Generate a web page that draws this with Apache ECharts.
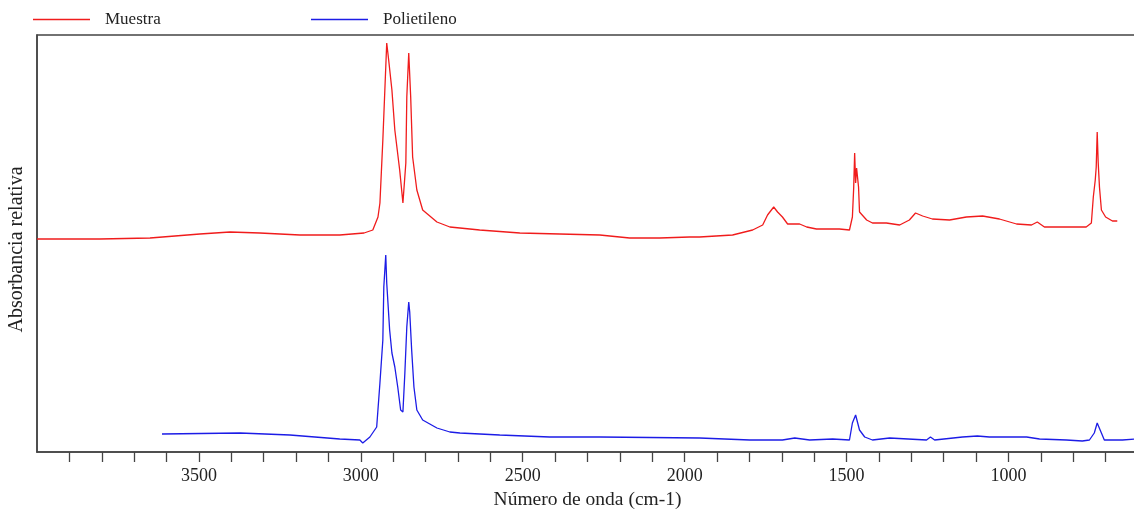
<!DOCTYPE html>
<html>
<head>
<meta charset="utf-8">
<script src="https://cdn.jsdelivr.net/npm/echarts@6/dist/echarts.min.js"></script>
<style>
html,body{margin:0;padding:0;background:#fff;overflow:hidden;}
#chart{width:1134px;height:516px;}
</style>
</head>
<body>
<div id="chart"></div>
<script>
// Muestra (red) — wavenumber (cm-1) and relative absorbance (arbitrary units)
const muestraX = [4000,3806,3651,3497,3404,3312,3188,3065,2990,2963,2947,2941,2932,2920,2914,2904,2895,2880,2870,2861,2858,2852,2846,2840,2827,2809,2765,2725,2694,2633,2509,2386,2262,2170,2077,1985,1954,1852,1790,1759,1744,1725,1713,1698,1682,1645,1623,1593,1522,1491,1482,1478,1475,1472,1469,1463,1460,1438,1420,1377,1336,1306,1287,1265,1235,1182,1130,1080,1028,975,929,911,889,760,744,738,732,729,726,723,719,713,700,679,664];
const muestraY = [213,213,214,218,220,219,217,217,219,222,235,249,312,409,392,362,322,282,249,289,355,399,355,295,262,242,230,225,224,222,219,218,217,214,214,215,215,217,222,227,237,245,240,235,228,228,225,223,223,222,235,264,299,269,284,265,240,232,229,229,227,232,239,236,233,232,235,236,233,228,227,230,225,225,229,255,272,285,320,290,265,242,235,231,231];

// Polietileno (blue)
const polietilenoX = [3614,3373,3219,3065,3003,2994,2972,2951,2941,2932,2929,2923,2920,2911,2904,2895,2886,2877,2870,2864,2858,2852,2849,2843,2836,2827,2809,2765,2725,2694,2571,2417,2262,1954,1799,1698,1660,1614,1543,1491,1482,1472,1466,1460,1444,1420,1367,1253,1241,1228,1142,1096,1059,944,904,821,772,750,735,726,713,704,648,605];
const polietilenoY = [18,19,17,13,12,9,15,25,69,112,165,197,169,122,99,85,65,42,40,79,125,150,140,102,65,42,32,24,20,19,17,15,15,14,12,12,14,12,13,12,29,37,35,22,15,12,14,12,15,12,15,16,15,15,13,12,11,12,19,29,19,12,12,13];

const seriesNames = ['Muestra', 'Polietileno'];
const seriesColors = ['#f01c1c', '#1c1ce6'];
const majorLabels = [3500, 3000, 2500, 2000, 1500, 1000];
const xTitle = 'Número de onda (cm-1)';
const yTitle = 'Absorbancia relativa';

const font = "'Liberation Serif', 'Times New Roman', serif";

function pairs(xs, ys) { return xs.map((x, i) => [x, ys[i]]); }

const chart = echarts.init(document.getElementById('chart'), null, {renderer: 'canvas'});
const legendBase = {
  icon: 'rect', itemWidth: 57, itemHeight: 1.5, top: 6,
  textStyle: {fontFamily: font, fontSize: 17, color: '#222', padding: [0, 0, 0, 10]}
};
chart.setOption({
  animation: false,
  backgroundColor: '#fff',
  legend: [
    Object.assign({}, legendBase, {left: 28, data: [seriesNames[0]]}),
    Object.assign({}, legendBase, {left: 306, data: [seriesNames[1]]})
  ],
  grid: {left: 37, top: 35, width: 1101, bottom: 64, outerBoundsMode: 'none', containLabel: false,
         show: true, borderColor: '#444', borderWidth: 1.5, backgroundColor: 'transparent'},
  xAxis: {
    type: 'value', inverse: true, min: 600, max: 4000, interval: 100,
    name: xTitle, nameLocation: 'middle', nameGap: 33,
    nameTextStyle: {fontFamily: font, fontSize: 19.5, color: '#222'},
    axisLine: {show: true, lineStyle: {color: '#444', width: 1.5}},
    axisTick: {show: true, inside: false, length: 10, lineStyle: {color: '#444', width: 1.3}},
    axisLabel: {
      interval: 0, margin: 15, showMinLabel: false, showMaxLabel: false,
      fontFamily: font, fontSize: 18, color: '#222',
      formatter: v => majorLabels.includes(v) ? String(v) : ''
    },
    splitLine: {show: false}
  },
  yAxis: {
    type: 'value', min: 0, max: 417,
    name: yTitle, nameLocation: 'middle', nameGap: 10,
    nameTextStyle: {fontFamily: font, fontSize: 20, color: '#222', padding: [0, 12, 0, 0]},
    axisLine: {show: true, lineStyle: {color: '#444', width: 1.5}},
    axisTick: {show: false}, axisLabel: {show: false}, splitLine: {show: false}
  },
  series: [
    {name: seriesNames[0], type: 'line', data: pairs(muestraX, muestraY), showSymbol: false, symbol: 'none',
     color: seriesColors[0], lineStyle: {width: 1.3, color: seriesColors[0]}},
    {name: seriesNames[1], type: 'line', data: pairs(polietilenoX, polietilenoY), showSymbol: false, symbol: 'none',
     color: seriesColors[1], lineStyle: {width: 1.3, color: seriesColors[1]}}
  ]
});
</script>
</body>
</html>
